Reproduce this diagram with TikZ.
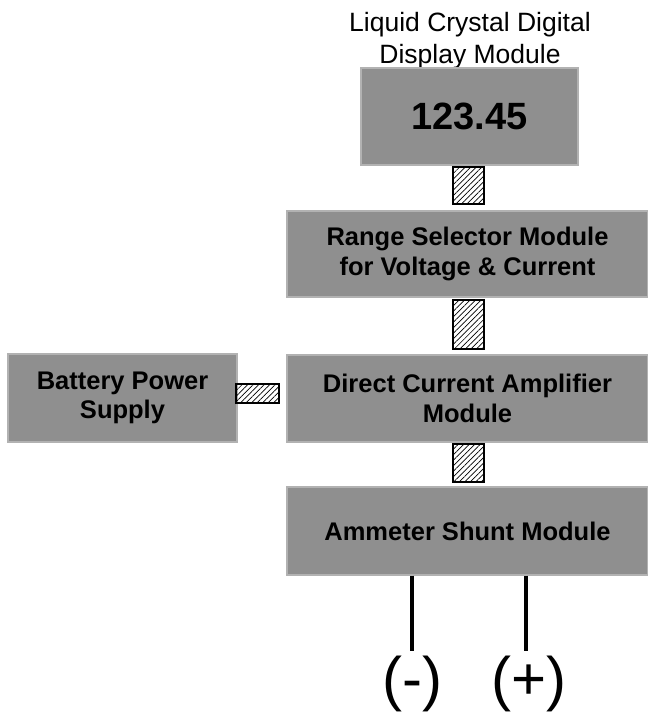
\documentclass[tikz,border=0pt]{standalone}
\usepackage{fontspec}
\setmainfont{Liberation Sans}
\usetikzlibrary{patterns.meta}
\definecolor{modgray}{RGB}{143,143,143}
\definecolor{modedge}{RGB}{178,178,178}

\begin{document}
\begin{tikzpicture}[x=1pt, y=-1pt,
  every node/.style={inner sep=0pt},
  module/.style={draw=modedge, line width=1.2pt, fill=modgray, align=center, font=\fontsize{25.5}{29.5}\selectfont\bfseries},
  link/.style={draw=black, line width=1.6pt, fill=white, pattern={Lines[angle=45, distance=3.9pt, line width=0.7pt]}},
  wire/.style={line width=4pt},
  pole/.style={font=\fontsize{60}{60}\selectfont, anchor=north}
]
\useasboundingbox (0,0) rectangle (648,715);

% Display on top
\node[align=center, font=\fontsize{26.5}{32}\selectfont] (title) at (470,41) {Liquid Crystal Digital\\Display Module};
\node[module, minimum width=217pt, minimum height=97pt, font=\fontsize{38}{38}\selectfont\bfseries] (disp) at (469.5,116.5) {123.45};

% Modules
\node[module, minimum width=361pt, minimum height=86pt] (range) at (467.5,254) {Range Selector Module\\for Voltage \& Current};
\node[module, minimum width=361pt, minimum height=87pt] (amp) at (467.5,398.5) {Direct Current Amplifier\\Module};
\node[module, minimum width=229pt, minimum height=88pt] (batt) at (122.5,398) {Battery Power\\Supply};
\node[module, minimum width=361pt, minimum height=88pt] (shunt) at (467.5,531) {Ammeter Shunt Module};

% Hatched links between modules
\node[link, minimum width=31pt, minimum height=37pt] (l1) at (468.5,185.5) {};
\node[link, minimum width=31pt, minimum height=49pt] (l2) at (468.5,324.5) {};
\node[link, minimum width=31pt, minimum height=38pt] (l3) at (468.5,463) {};
\node[link, minimum width=43pt, minimum height=19pt] (l4) at (257.5,393.5) {};

% Test leads
\node[pole] (neg) at (412.5,656) {(-)};
\node[pole] (pos) at (529,656) {(+)};
\draw[wire] (shunt.south -| 412,0) -- ([yshift=5pt]neg.north -| 412,0);
\draw[wire] (shunt.south -| 526,0) -- ([yshift=5pt]pos.north -| 526,0);
\end{tikzpicture}
\end{document}
